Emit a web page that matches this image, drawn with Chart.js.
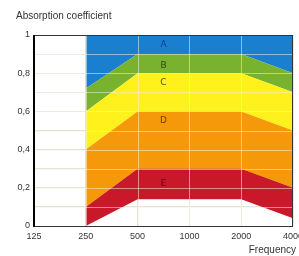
<!DOCTYPE html>
<html>
<head>
<meta charset="utf-8">
<script src="https://cdn.jsdelivr.net/npm/chart.js@4"></script>
<style>
  html, body { margin: 0; padding: 0; background: #fff; }
  #wrap { width: 299px; height: 256px; }
</style>
</head>
<body>
<div id="wrap"><canvas id="chart"></canvas></div>
<script>
// frequency bands (Hz)
const frequencies = ['125', '250', '500', '1000', '2000', '4000'];

// boundaries of the classes
const floorE = [null, 0, 0.14, 0.14, 0.14, 0.04];
const topE   = [null, 0.1, 0.3, 0.3, 0.3, 0.2];
const topD   = [null, 0.4, 0.6, 0.6, 0.6, 0.5];
const topC   = [null, 0.6, 0.8, 0.8, 0.8, 0.7];
const topB   = [null, 0.72, 0.9, 0.9, 0.9, 0.8];
const topA   = [null, 1, 1, 1, 1, 1];

// class letters and where they sit
const classNames  = ['A', 'B', 'C', 'D', 'E'];
const classLevels = [0.95, 0.84, 0.75, 0.55, 0.22];
const classAt = 2.5; // between 500 and 1000

const fills  = ['#1b7fcf', '#78b22e', '#fff21c', '#f5990a', '#c8182a'];
const inks   = ['#1a3a8a', '#2c4a10', '#5a5000', '#7a3a00', '#6a0010'];

const band = (data, color) => ({
  data: data,
  fill: '-1',
  backgroundColor: color,
  borderWidth: 0,
  pointRadius: 0,
  tension: 0
});

const extras = {
  id: 'extras',
  afterDatasetsDraw(chart) {
    // light grid over the coloured bands
    const ctx = chart.ctx;
    const a = chart.chartArea;
    const x = chart.scales.x, y = chart.scales.y;
    ctx.save();
    ctx.strokeStyle = 'rgba(240,240,225,0.55)';
    ctx.lineWidth = 1;
    ctx.beginPath();
    y.ticks.forEach(t => {
      const py = Math.round(y.getPixelForValue(t.value)) + 0.5;
      ctx.moveTo(a.left, py); ctx.lineTo(a.right, py);
    });
    x.ticks.forEach((t, i) => {
      const px = Math.round(x.getPixelForValue(i)) + 0.5;
      ctx.moveTo(px, a.top); ctx.lineTo(px, a.bottom);
    });
    ctx.stroke();
    ctx.restore();
  },
  afterDraw(chart) {
    const ctx = chart.ctx;
    const a = chart.chartArea;
    const x = chart.scales.x, y = chart.scales.y;
    ctx.save();
    // class letters
    ctx.font = '9px "DejaVu Sans"';
    ctx.textAlign = 'center';
    ctx.textBaseline = 'middle';
    const px = x.getPixelForValue(classAt);
    classNames.forEach((n, i) => {
      ctx.fillStyle = inks[i];
      ctx.fillText(n, px, y.getPixelForValue(classLevels[i]));
    });
    // frame
    ctx.strokeStyle = '#333';
    ctx.lineWidth = 1;
    ctx.strokeRect(a.left + 0.5, a.top + 0.5, a.right - a.left - 1, a.bottom - a.top);
    ctx.strokeStyle = '#000';
    ctx.lineWidth = 2;
    ctx.beginPath();
    ctx.moveTo(a.left, a.top);
    ctx.lineTo(a.left, a.bottom + 1);
    ctx.stroke();
    // axis titles
    ctx.fillStyle = '#333';
    ctx.font = '10px "Liberation Sans"';
    ctx.textAlign = 'left';
    ctx.textBaseline = 'middle';
    ctx.fillText('Absorption coefficient', 16, 16);
    ctx.textAlign = 'right';
    ctx.fillText('Frequency', 296, 250);
    ctx.restore();
  }
};

new Chart(document.getElementById('chart'), {
  type: 'line',
  data: {
    labels: frequencies,
    datasets: [
      { data: floorE, fill: false, borderWidth: 0, pointRadius: 0 },
      band(topE, fills[4]),
      band(topD, fills[3]),
      band(topC, fills[2]),
      band(topB, fills[1]),
      band(topA, fills[0])
    ]
  },
  options: {
    responsive: true,
    maintainAspectRatio: false,
    animation: false,
    layout: { padding: { top: 35, right: 6, left: 0, bottom: 0 } },
    plugins: { legend: { display: false }, tooltip: { enabled: false }, title: { display: false } },
    scales: {
      x: {
        offset: false,
        border: { display: false },
        grid: { color: '#e4e4d4', drawTicks: false },
        ticks: {
          color: '#333', font: { size: 9, family: 'Liberation Sans' },
          maxRotation: 0, autoSkip: false, padding: 5
        },
        afterFit(s) { s.height = 30; s.paddingLeft = 0; s.paddingRight = 0; }
      },
      y: {
        min: 0, max: 1,
        border: { display: false },
        grid: { color: '#e4e4d4', drawTicks: false },
        ticks: {
          stepSize: 0.1,
          color: '#333', font: { size: 9, family: 'Liberation Sans' },
          padding: 4,
          callback: (v) => {
            const t = Math.round(v * 10);
            if (t % 2) return '';
            return (t / 10).toString().replace('.', ',');
          }
        },
        afterFit(s) { s.width = 34; }
      }
    }
  },
  plugins: [extras]
});
</script>
</body>
</html>
